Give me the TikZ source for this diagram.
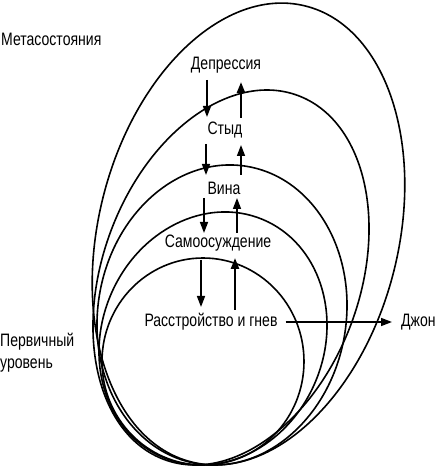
\documentclass[tikz,border=0pt]{standalone}
\usepackage{fontspec}
\setmainfont{Liberation Sans}[FakeStretch=0.78]
\usetikzlibrary{arrows.meta}
\begin{document}
\begin{tikzpicture}[x=1pt,y=1pt,
  oval/.style={line width=1.6pt},
  lbl/.style={font=\fontsize{18}{22}\selectfont, inner sep=0pt},
  arr/.style={line width=1.6pt,-{Triangle[length=11pt,width=8pt]}},
  thickarr/.style={line width=2.4pt,-{Triangle[length=11pt,width=8pt]}}]
\useasboundingbox (0,0) rectangle (438,467);
% ovals
\draw[oval] (203,105.5) ellipse [x radius=101pt, y radius=103.5pt];
\draw[oval, rotate around={-22.6:(213,128.5)}] (213,128.5) ellipse [x radius=111.2pt, y radius=129pt];
\draw[oval, rotate around={-9.6:(222,152)}] (222,152) ellipse [x radius=124.2pt, y radius=150.7pt];
\draw[oval, rotate around={-20:(231,189.5)}] (231,189.5) ellipse [x radius=128.8pt, y radius=193.9pt];
\draw[oval, rotate around={-14:(248.5,233)}] (248.5,233) ellipse [x radius=150pt, y radius=235pt];
% labels
\node[lbl, anchor=west] (meta) at (1,428) {Метасостояния};
\node[lbl] (dep) at (226,402) {Депрессия};
\node[lbl] (styd) at (225,337) {Стыд};
\node[lbl] (vina) at (224,279) {Вина};
\node[lbl] (samo) at (218,224) {Самоосуждение};
\node[lbl] (rg) at (211,145) {Расстройство и гнев};
\node[lbl, anchor=west] (dzh) at (401,145) {Джон};
\node[lbl, anchor=north west, align=left] (perv) at (0,134) {Первичный\\уровень};
% arrow end points
\coordinate (d1a) at (207,387); \coordinate (d1b) at (207,350);
\coordinate (u1a) at (241,349); \coordinate (u1b) at (241,385);
\coordinate (d2a) at (206,323); \coordinate (d2b) at (206,292);
\coordinate (u2a) at (241,292); \coordinate (u2b) at (241,322);
\coordinate (d3a) at (204,269); \coordinate (d3b) at (204,234);
\coordinate (u3a) at (237,234); \coordinate (u3b) at (237,269);
\coordinate (d4a) at (201,207); \coordinate (d4b) at (201,160);
\coordinate (u4a) at (235,157); \coordinate (u4b) at (235,209);
% arrows
\draw[arr] (d1a) -- (d1b);
\draw[thickarr] (u1a) -- (u1b);
\draw[arr] (d2a) -- (d2b);
\draw[arr] (u2a) -- (u2b);
\draw[arr] (d3a) -- (d3b);
\draw[arr] (u3a) -- (u3b);
\draw[arr] (d4a) -- (d4b);
\draw[thickarr] (u4a) -- (u4b);
\draw[arr] ([xshift=8pt]rg.east) -- ([xshift=-9pt]dzh.west);
\end{tikzpicture}
\end{document}
